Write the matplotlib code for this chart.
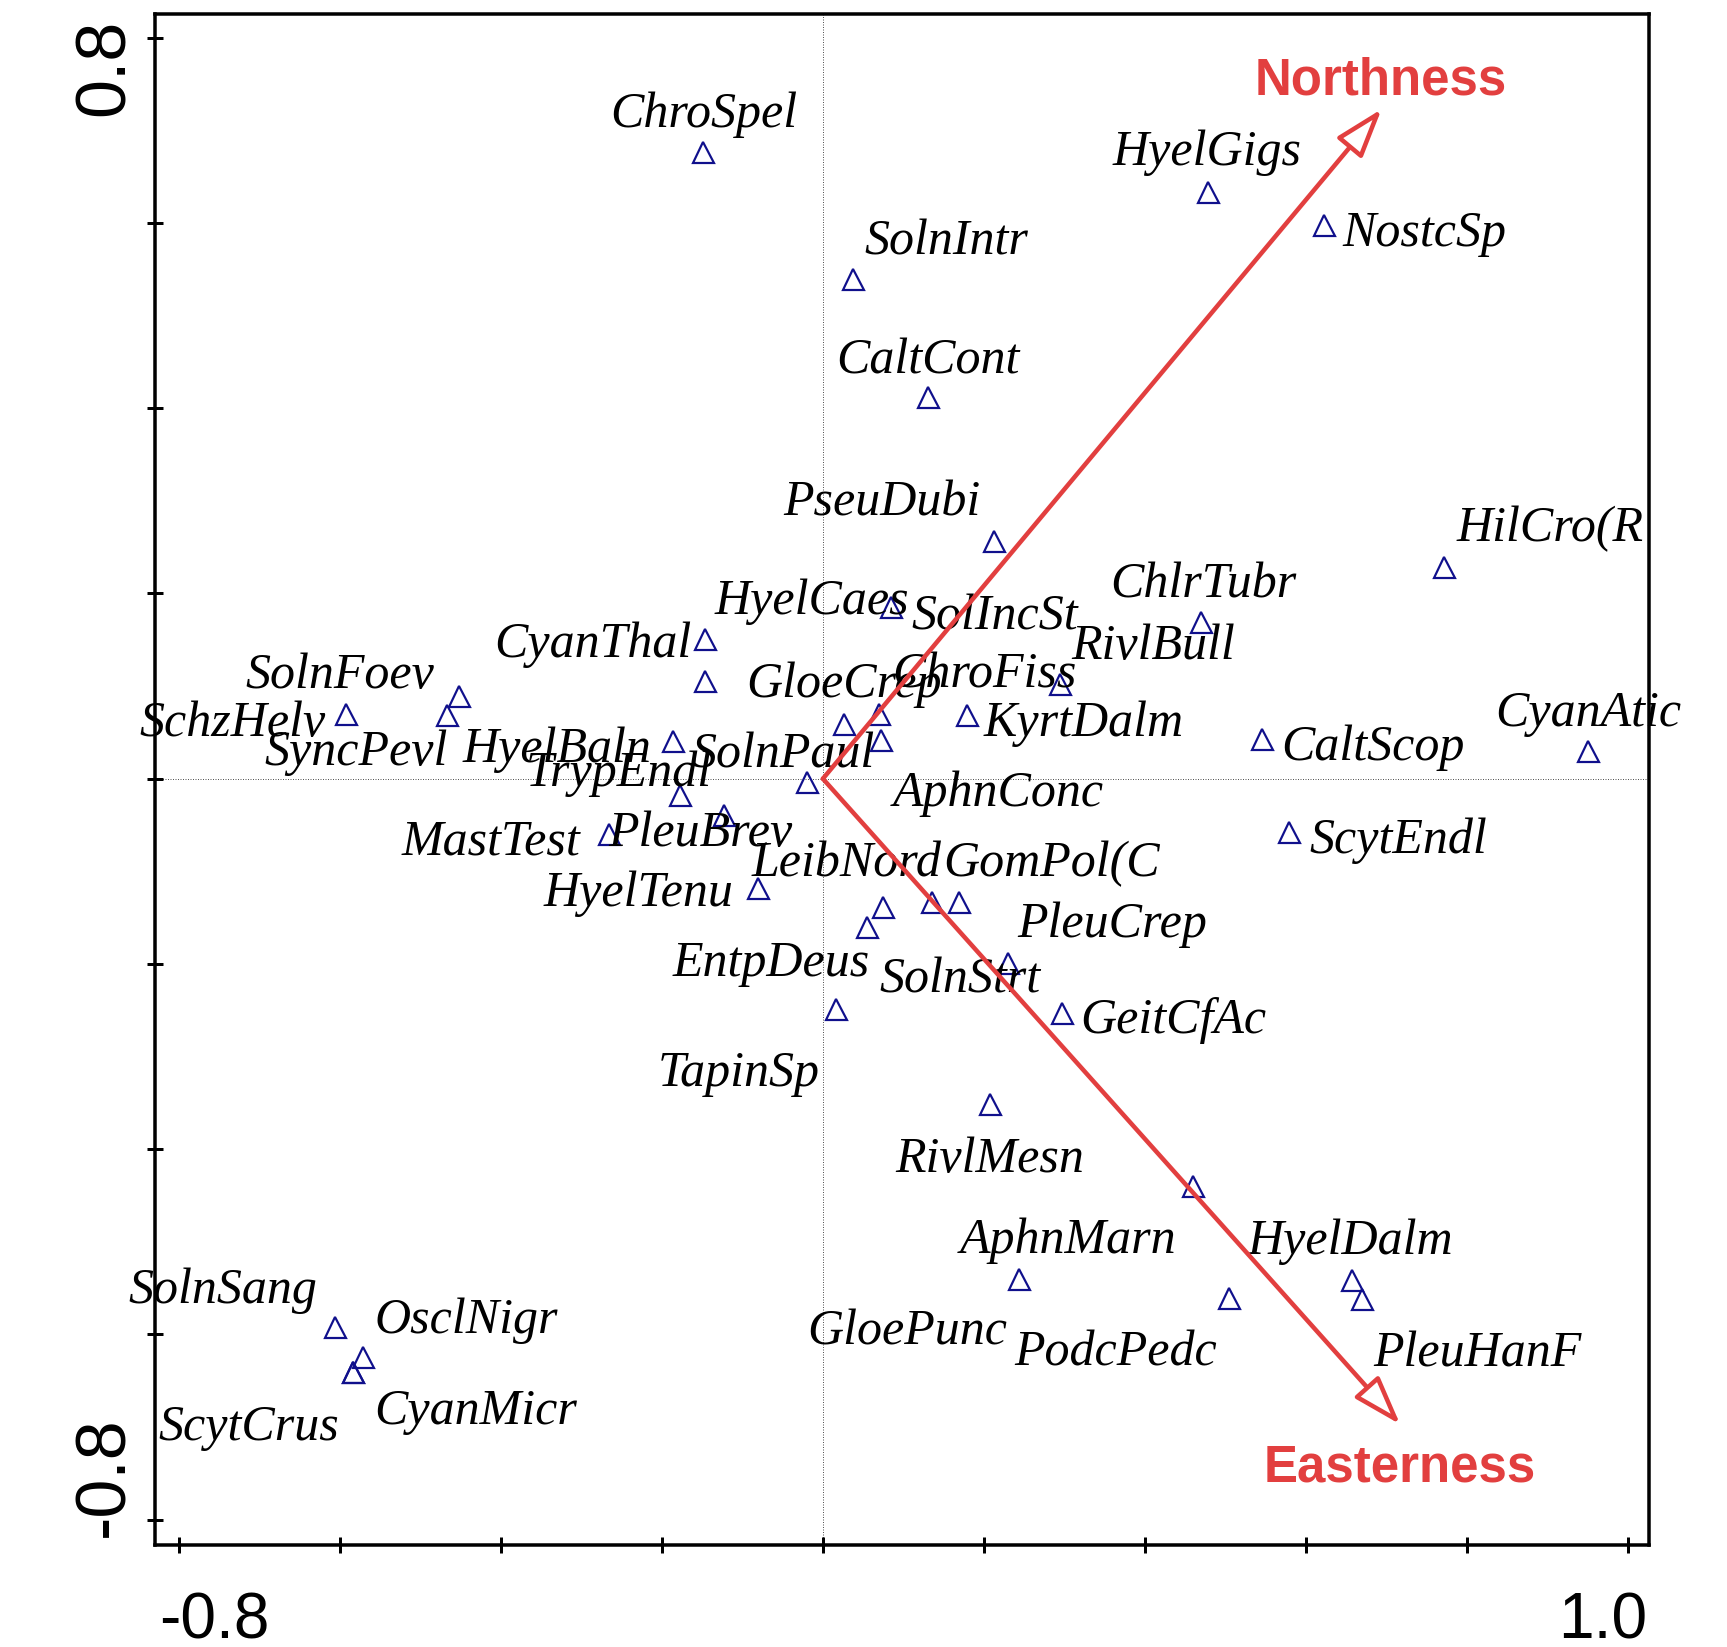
import matplotlib
matplotlib.use('Agg')
import matplotlib.pyplot as plt
from matplotlib.patches import FancyArrowPatch

# species scores on the first two ordination axes
species = ['ChroSpel', 'HyelGigs', 'NostcSp', 'SolnIntr', 'CaltCont', 'PseuDubi',
           'HilCro(R', 'ChlrTubr', 'SolIncSt', 'HyelCaes', 'CyanThal', 'RivlBull',
           'SolnFoev', 'SyncPevl', 'SchzHelv', 'GloeCrep', 'ChroFiss', 'AphnConc',
           'KyrtDalm', 'CaltScop', 'CyanAtic', 'HyelBaln', 'SolnPaul', 'TrypEndl',
           'PleuBrev', 'MastTest', 'ScytEndl', 'HyelTenu', 'LeibNord', 'EntpDeus',
           'GomPol(C', 'PleuCrep', 'SolnStrt', 'GeitCfAc', 'TapinSp', 'RivlMesn',
           'AphnMarn', 'GloePunc', 'PodcPedc', 'HyelDalm', 'PleuHanF', 'SolnSang',
           'OsclNigr', 'ScytCrus', 'CyanMicr']
axis1 = [-0.149, 0.478, 0.622, 0.037, 0.130, 0.212,
         0.771, 0.470, 0.085, -0.146, -0.147, 0.294,
         -0.452, -0.467, -0.592, 0.026, 0.070, 0.072,
         0.179, 0.545, 0.950, -0.186, -0.020, -0.178,
         -0.123, -0.266, 0.579, -0.080, 0.075, 0.055,
         0.135, 0.169, 0.230, 0.297, 0.016, 0.208,
         0.460, 0.243, 0.505, 0.657, 0.670, -0.606,
         -0.571, -0.584, -0.584]
axis2 = [0.677, 0.633, 0.598, 0.539, 0.412, 0.257,
         0.229, 0.169, 0.185, 0.151, 0.106, 0.102,
         0.089, 0.069, 0.070, 0.059, 0.070, 0.042,
         0.069, 0.043, 0.030, 0.041, -0.003, -0.018,
         -0.039, -0.060, -0.057, -0.118, -0.139, -0.160,
         -0.133, -0.133, -0.199, -0.253, -0.249, -0.351,
         -0.440, -0.540, -0.561, -0.541, -0.562, -0.592,
         -0.624, -0.641, -0.641]

# environmental variables (biplot arrows)
env_names = ['Northness', 'Easterness']
env_x = [0.694, 0.717]
env_y = [0.723, -0.697]

# label placement, offset in points from the symbol (text centre, baseline)
label_offset = {
    'ChroSpel': (1, 25), 'HyelGigs': (-1, 27), 'NostcSp': (101, -21),
    'SolnIntr': (94, 25), 'CaltCont': (0, 24), 'PseuDubi': (-112, 25),
    'HilCro(R': (106, 25), 'ChlrTubr': (2, 25), 'SolIncSt': (103, -22),
    'HyelCaes': (107, 25), 'CyanThal': (-112, 24), 'RivlBull': (94, 25),
    'SolnFoev': (-119, 8), 'SyncPevl': (-91, -50), 'SchzHelv': (-114, -22),
    'GloeCrep': (0, 27), 'ChroFiss': (105, 26), 'AphnConc': (117, -66),
    'KyrtDalm': (117, -21), 'CaltScop': (111, -21), 'CyanAtic': (1, 25),
    'HyelBaln': (-116, -21), 'SolnPaul': (-24, 14), 'TrypEndl': (-61, 9),
    'PleuBrev': (-23, -31), 'MastTest': (-118, -20), 'ScytEndl': (109, -21),
    'HyelTenu': (-120, -18), 'LeibNord': (-37, 31), 'EntpDeus': (-96, -49),
    'GomPol(C': (120, 26), 'PleuCrep': (153, -35), 'SolnStrt': (-48, -29),
    'GeitCfAc': (111, -20), 'TapinSp': (-97, -77), 'RivlMesn': (-1, -68),
    'AphnMarn': (-125, -67), 'GloePunc': (-111, -66), 'PodcPedc': (-114, -67),
    'HyelDalm': (-2, 26), 'PleuHanF': (115, -67), 'SolnSang': (-112, 24),
    'OsclNigr': (103, 24), 'ScytCrus': (-104, -68), 'CyanMicr': (123, -52),
}
env_offset = {'Northness': (-1, 15), 'Easterness': (0, -57)}

red = '#e23f3f'
navy = '#10108c'

fig = plt.figure(figsize=(1727 / 72, 1647 / 72), dpi=72)
ax = fig.add_axes([0.0900, 0.0621, 0.8648, 0.9296])
ax.set_xlim(-0.829, 1.026)
ax.set_ylim(-0.827, 0.826)

# dotted zero lines
ax.axhline(0, color='#555555', lw=1, ls=(0, (1, 1.5)), zorder=1)
ax.axvline(0, color='#555555', lw=1, ls=(0, (1, 1.5)), zorder=1)

ax.plot(axis1, axis2, ls='none', marker='^', ms=21, mfc='none',
        mec=navy, mew=2.2, zorder=3)

for name, x, y in zip(species, axis1, axis2):
    dx, dy = label_offset[name]
    ax.annotate(name, (x, y), xytext=(dx, dy), textcoords='offset points',
                ha='center', va='baseline', fontsize=50,
                family='Liberation Serif', style='italic', color='black',
                zorder=4, annotation_clip=False)

for name, x, y in zip(env_names, env_x, env_y):
    arr = FancyArrowPatch((0, 0), (x, y),
                          arrowstyle='-|>,head_length=42,head_width=14',
                          mutation_scale=1, lw=4.5, ec=red, fc='white',
                          shrinkA=0, shrinkB=0, zorder=5)
    ax.add_patch(arr)
    dx, dy = env_offset[name]
    ax.annotate(name, (x, y), xytext=(dx, dy), textcoords='offset points',
                ha='center', va='baseline', fontsize=51, fontweight='bold',
                family='Liberation Sans', color=red, annotation_clip=False)

# axes frame and ticks
for side in ['left', 'bottom', 'top', 'right']:
    ax.spines[side].set_linewidth(3.5)
ax.set_xticks([-0.8 + 0.2 * i for i in range(10)])
ax.set_yticks([-0.8 + 0.2 * i for i in range(9)])
ax.set_xticklabels([])
ax.set_yticklabels([])
ax.tick_params(direction='inout', length=16, width=3)

tick_font = dict(family='Liberation Sans', color='black')
ax.text(-0.8246, -0.0615, '-0.8', transform=ax.get_xaxis_transform(),
        ha='left', va='baseline', fontsize=64, **tick_font)
ax.text(1.0233, -0.0615, '1.0', transform=ax.get_xaxis_transform(),
        ha='right', va='baseline', fontsize=64, **tick_font)
ax.text(-0.0554, 0.821, '0.8', transform=ax.get_yaxis_transform(),
        rotation=90, ha='left', va='top', fontsize=70, **tick_font)
ax.text(-0.0554, -0.819, '-0.8', transform=ax.get_yaxis_transform(),
        rotation=90, ha='left', va='bottom', fontsize=70, **tick_font)

fig.savefig('out.png', dpi=72)
